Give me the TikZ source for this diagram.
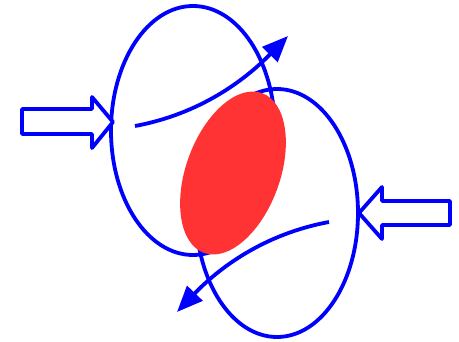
\documentclass[tikz,border=0pt]{standalone}
\usetikzlibrary{arrows.meta}
\definecolor{ringblue}{RGB}{0,0,255}
\definecolor{coredred}{RGB}{255,51,51}
\begin{document}
\begin{tikzpicture}[x=1pt,y=-1pt,
  ring/.style={draw=ringblue,line width=3.8pt},
  blockarrow/.style={draw=ringblue,line width=3.8pt,line join=round,fill=white},
  flowarrow/.style={draw=ringblue,line width=3.8pt,-{Triangle[length=26pt,width=21pt]}}]
\useasboundingbox (0,0) rectangle (459,342);
% rings
\draw[ring] (193,130.5) ellipse [x radius=82pt, y radius=124.5pt];
\draw[ring] (277,213) ellipse [x radius=81pt, y radius=124pt];
% red core
\fill[coredred] (233,173) ellipse [x radius=47pt, y radius=85pt, rotate=-20];
% curved arrows
\coordinate (s1) at (135,126);
\coordinate (t1) at (288,36);
\coordinate (s2) at (329,222);
\coordinate (t2) at (177,312);
\draw[flowarrow] (s1) .. controls (200,114) and (245,80) .. (t1);
\draw[flowarrow] (s2) .. controls (264,234) and (219,268) .. (t2);
% block arrows
\draw[blockarrow] (22,109) -- (92,109) -- (92,97) -- (113,122) -- (92,148) -- (92,134) -- (22,134) -- cycle;
\draw[blockarrow] (450,201) -- (382,201) -- (382,187) -- (359,213) -- (382,239) -- (382,225) -- (450,225) -- cycle;
\end{tikzpicture}
\end{document}
